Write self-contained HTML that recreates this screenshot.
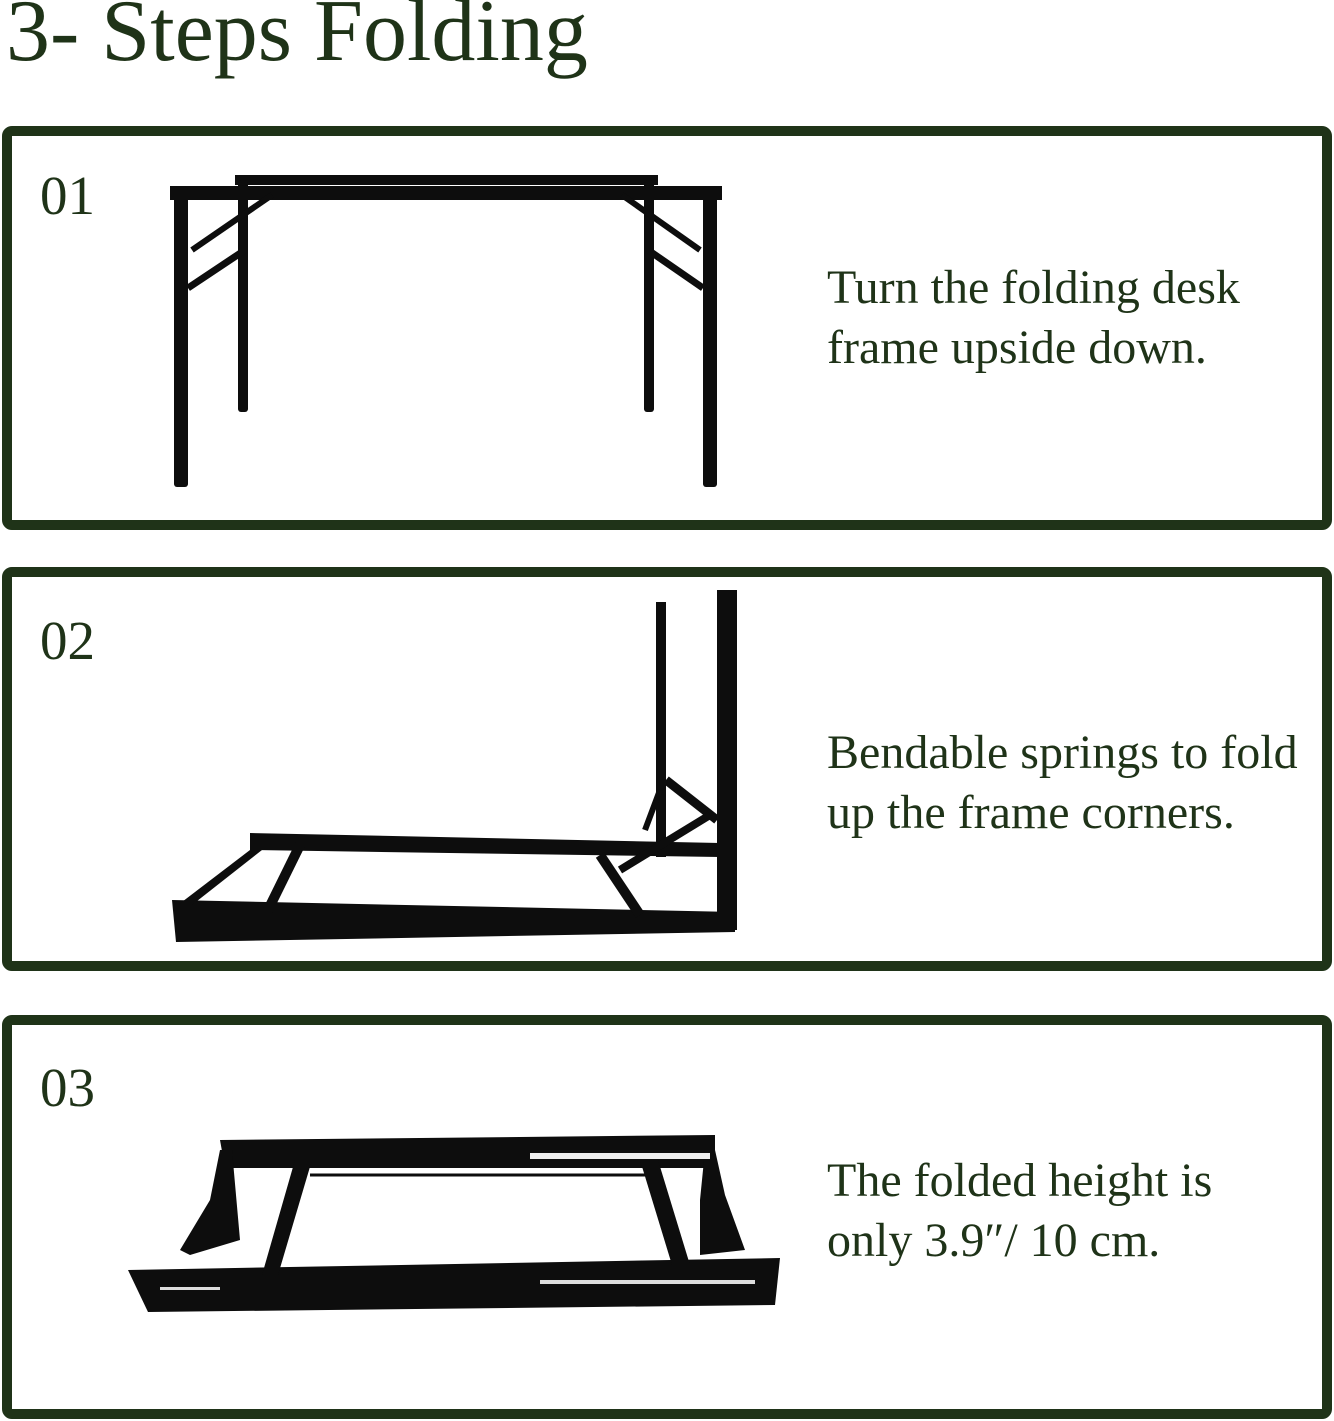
<!DOCTYPE html>
<html><head><meta charset="utf-8"><style>
html,body{margin:0;padding:0;background:#fff;}
body{width:1334px;height:1421px;position:relative;overflow:hidden;font-family:"Liberation Serif",serif;color:#1f3318;}
.t{position:absolute;left:6px;top:-12px;font-size:88px;line-height:1;white-space:nowrap;}
.box{position:absolute;left:2px;width:1310px;height:384px;border:10px solid #1f3318;border-radius:10px;}
.n{position:absolute;left:40px;font-size:55px;line-height:1;}
.d{position:absolute;left:827px;font-size:48px;line-height:60px;white-space:nowrap;}
svg{position:absolute;left:0;top:0;}
</style></head><body>
<div class="t">3- Steps Folding</div>
<div class="box" style="top:126px"></div>
<div class="box" style="top:567px"></div>
<div class="box" style="top:1015px"></div>
<div class="n" style="top:168px">01</div>
<div class="n" style="top:613px">02</div>
<div class="n" style="top:1060px">03</div>
<div class="d" style="top:258px">Turn the folding desk<br>frame upside down.</div>
<div class="d" style="top:723px">Bendable springs to fold<br>up the frame corners.</div>
<div class="d" style="top:1151px">The folded height is<br>only 3.9″/ 10 cm.</div>
<svg width="1334" height="1421" fill="#0d0d0d" stroke="#0d0d0d">
<rect x="235" y="175" width="423" height="10" stroke="none"/>
<rect x="170" y="186" width="552" height="14" stroke="none"/>
<rect x="174" y="186" width="14" height="301" rx="3" stroke="none"/>
<rect x="703" y="186" width="14" height="301" rx="3" stroke="none"/>
<rect x="238" y="180" width="10" height="232" rx="3" stroke="none"/>
<rect x="644" y="180" width="10" height="232" rx="3" stroke="none"/>
<line x1="188" y1="288" x2="245" y2="250" stroke-width="7"/>
<line x1="192" y1="250" x2="272" y2="195" stroke-width="6"/>
<line x1="703" y1="288" x2="648" y2="250" stroke-width="7"/>
<line x1="700" y1="250" x2="622" y2="195" stroke-width="6"/>
<polygon points="250,833 720,843 720,857 250,850" stroke="none"/>
<polygon points="172,900 735,912 735,932 176,942" stroke="none"/>
<rect x="717" y="590" width="20" height="340" stroke="none"/>
<rect x="656" y="602" width="10" height="255" stroke="none"/>
<polygon points="250,850 262,850 192,905 178,905" stroke="none"/>
<line x1="300" y1="845" x2="268" y2="910" stroke-width="10"/>
<line x1="600" y1="855" x2="640" y2="915" stroke-width="10"/>
<line x1="666" y1="780" x2="717" y2="820" stroke-width="9"/>
<line x1="620" y1="870" x2="710" y2="815" stroke-width="8"/>
<line x1="645" y1="830" x2="660" y2="790" stroke-width="6"/>
<polygon points="220,1140 715,1135 715,1168 225,1168" stroke="none"/>
<polygon points="128,1270 780,1258 775,1305 148,1312" stroke="none"/>
<polygon points="295,1160 312,1160 278,1275 262,1275" stroke="none"/>
<polygon points="640,1160 658,1160 690,1265 672,1265" stroke="none"/>
<polygon points="220,1150 232,1150 240,1240 190,1255 180,1250 210,1200" stroke="none"/>
<polygon points="705,1150 715,1150 725,1195 745,1250 700,1255 700,1200" stroke="none"/>
<line x1="310" y1="1175" x2="650" y2="1175" stroke-width="3"/>
<rect x="540" y="1280" width="215" height="4" fill="#ddd" stroke="none"/>
<rect x="160" y="1287" width="60" height="3" fill="#ddd" stroke="none"/>
<rect x="530" y="1153" width="180" height="6" fill="#eee" stroke="none"/>
</svg>
</body></html>
